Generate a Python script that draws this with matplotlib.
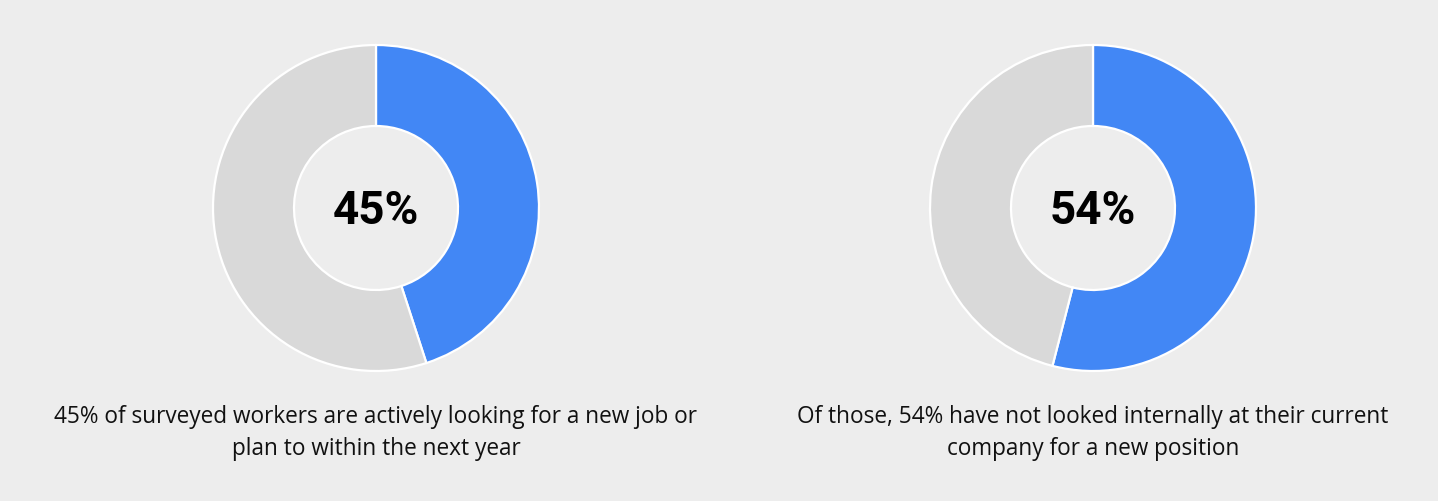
import matplotlib.pyplot as plt

# data
shares = [45, 54]
labels = ['45%', '54%']
captions = [
    '45% of surveyed workers are actively looking for a new job or\nplan to within the next year',
    'Of those, 54% have not looked internally at their current\ncompany for a new position',
]
centers_x = [376, 1093]

BLUE = '#4287F5'
GREY = '#D9D9D9'
BG = '#EDEDED'

W, H = 1438, 502
fig = plt.figure(figsize=(W / 100, H / 100), dpi=100)
fig.patch.set_facecolor(BG)
ax = fig.add_axes([0, 0, 1, 1])
ax.set_facecolor(BG)

cy = H - 209
for share, label, caption, cx in zip(shares, labels, captions, centers_x):
    ax.pie([share, 100 - share],
           colors=[BLUE, GREY],
           startangle=90,
           counterclock=False,
           center=(cx, cy),
           radius=163,
           wedgeprops=dict(width=81, edgecolor='white', linewidth=1.6))
    ax.text(cx, cy - 2, label, ha='center', va='center',
            fontsize=33, fontweight='bold', family='Roboto', color='black')
    ax.text(cx, H - 433, caption, ha='center', va='center',
            fontsize=16.3, family='Open Sans', color='#111111',
            linespacing=1.45)

ax.set_xlim(0, W)
ax.set_ylim(0, H)
ax.set_aspect('equal')
ax.axis('off')

plt.savefig('out.png', dpi=100, facecolor=BG)
